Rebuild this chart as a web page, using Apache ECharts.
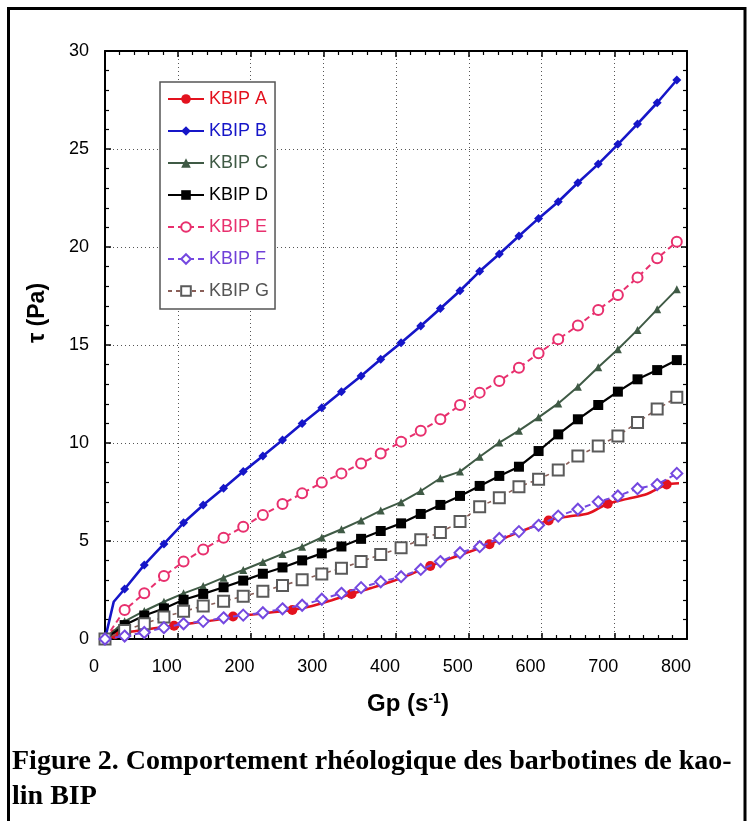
<!DOCTYPE html>
<html><head><meta charset="utf-8">
<script src="https://cdn.jsdelivr.net/npm/echarts@6/dist/echarts.min.js"></script>
<style>html,body{margin:0;padding:0;background:#fff}#c{width:748px;height:821px}</style>
</head><body><div id="c"></div>
<script>
// ---- data ----
const seriesNames = ['KBIP A','KBIP B','KBIP C','KBIP D','KBIP E','KBIP F','KBIP G'];
const xTicks = [0,100,200,300,400,500,600,700,800];
const yTicks = [0,5,10,15,20,25,30];

const gp  = [0,27,54,81,108,135,163,190,217,244,271,298,325,352,379,407,434,461,488,515,542,569,596,623,650,678,705,732,759,786];
const gpA = [0,13.5,40.6,67.8,94.9,122,149,176,203,230,257.5,284.6,311.7,338.8,366,393,420,447,474,501,528.5,555.6,582.7,609.8,637,664,691,718,745,772,789];
const gpB = [0,12,27,54,81,108,135,163,190,217,244,271,298,325,352,379,407,434,461,488,515,542,569,596,623,650,678,705,732,759,786];

const tauA = [0,0.24,0.40,0.55,0.68,0.82,0.95,1.15,1.25,1.36,1.48,1.68,1.98,2.3,2.6,2.92,3.3,3.72,4.1,4.45,4.83,5.25,5.65,6.05,6.25,6.4,6.9,7.15,7.4,7.88,7.95];
const tauB = [0,1.9,2.55,3.78,4.85,5.93,6.84,7.69,8.54,9.34,10.15,11.0,11.80,12.62,13.42,14.27,15.12,15.97,16.86,17.77,18.76,19.64,20.56,21.46,22.31,23.28,24.23,25.24,26.28,27.36,28.52];
const tauC = [0,0.9,1.43,1.90,2.33,2.70,3.13,3.52,3.93,4.34,4.71,5.18,5.60,6.05,6.55,6.98,7.55,8.20,8.54,9.30,10.02,10.63,11.31,12.02,12.87,13.86,14.78,15.77,16.82,17.84];
const tauD = [0,0.71,1.2,1.56,2.0,2.3,2.64,2.98,3.33,3.65,4.01,4.37,4.72,5.11,5.51,5.90,6.38,6.84,7.30,7.81,8.32,8.79,9.59,10.44,11.21,11.94,12.62,13.25,13.72,14.23];
const tauE = [0,1.48,2.33,3.21,3.95,4.57,5.17,5.73,6.33,6.89,7.43,7.98,8.45,8.96,9.47,10.07,10.63,11.21,11.94,12.57,13.16,13.84,14.58,15.29,15.99,16.79,17.55,18.45,19.42,20.27];
const tauF = [0,0.15,0.33,0.58,0.78,0.9,1.08,1.22,1.34,1.54,1.72,2.03,2.33,2.62,2.92,3.18,3.55,3.95,4.40,4.71,5.13,5.48,5.8,6.27,6.62,7.0,7.3,7.67,7.88,8.45];
const tauG = [0,0.44,0.78,1.12,1.41,1.68,1.92,2.18,2.43,2.73,3.02,3.32,3.61,3.95,4.31,4.66,5.07,5.43,5.99,6.75,7.21,7.77,8.15,8.62,9.34,9.85,10.36,11.05,11.73,12.33];

const markedA = [1,4,7,10,13,17,20,23,26,29];

// ---- styles ----
const colors = ['#e3121e','#1616c8','#3f5a45','#000000','#e8306e','#7448e0','#5a5a5a'];
const textColors = ['#e3121e','#1616c8','#3f5a45','#000000','#e8306e','#7040d8','#555555'];
const pairs = (xs, ys) => xs.map((x, i) => [x, ys[i]]);

const chart = echarts.init(document.getElementById('c'), null, {renderer: 'canvas'});
const FONT = 'Liberation Sans, Arial, sans-serif';

const axisBase = {
  type: 'value',
  axisLine: {onZero: false, lineStyle: {color: '#000', width: 2}},
  axisTick: {inside: true, length: 6, lineStyle: {color: '#000', width: 1.5}},
  minorTick: {show: true, splitNumber: 5, length: 4, lineStyle: {color: '#000', width: 1.2}}
};

const option = {
  animation: false,
  backgroundColor: '#fff',
  grid: {left: 105, top: 51, right: 61, bottom: 182, containLabel: false},
  xAxis: [
    Object.assign({}, axisBase, {
      min: xTicks[0], max: xTicks[xTicks.length - 1], interval: 100, position: 'bottom',
      splitLine: {show: true, lineStyle: {color: '#555', type: [1, 3], width: 1}},
      axisLabel: {fontSize: 18, color: '#000', margin: 19, padding: [0, 22, 0, 0], fontFamily: FONT}
    }),
    Object.assign({}, axisBase, {
      min: xTicks[0], max: xTicks[xTicks.length - 1], interval: 100, position: 'top',
      splitLine: {show: false}, axisLabel: {show: false}
    })
  ],
  yAxis: [
    Object.assign({}, axisBase, {
      min: yTicks[0], max: yTicks[yTicks.length - 1], interval: 5, position: 'left',
      splitLine: {show: true, lineStyle: {color: '#555', type: [1, 3], width: 1}},
      axisLabel: {fontSize: 18, color: '#000', margin: 16, fontFamily: FONT}
    }),
    Object.assign({}, axisBase, {
      min: yTicks[0], max: yTicks[yTicks.length - 1], interval: 5, position: 'right',
      splitLine: {show: false}, axisLabel: {show: false}
    })
  ],
  legend: {
    left: 160, top: 82, orient: 'vertical',
    itemWidth: 36, itemHeight: 12, itemGap: 14,
    padding: [8, 6, 9, 7],
    borderColor: '#555', borderWidth: 1.5, backgroundColor: '#fff',
    textStyle: {fontFamily: FONT, fontSize: 18, lineHeight: 18},
    selectedMode: false, z: 10,
    data: seriesNames.map((n, i) => ({name: n, textStyle: {color: textColors[i]}}))
  },
  series: [
    {name: seriesNames[0], type: 'line', data: pairs(gpA, tauA), smooth: 0.3,
     symbol: 'circle', symbolSize: (v, p) => markedA.indexOf(p.dataIndex) >= 0 ? 10 : 0,
     lineStyle: {color: colors[0], width: 2.5}, itemStyle: {color: colors[0]}, z: 2},
    {name: seriesNames[1], type: 'line', data: pairs(gpB, tauB),
     symbol: 'diamond', symbolSize: (v, p) => p.dataIndex === 1 ? 0 : 9,
     lineStyle: {color: colors[1], width: 2.6}, itemStyle: {color: colors[1]}, z: 3},
    {name: seriesNames[2], type: 'line', data: pairs(gp, tauC),
     symbol: 'triangle', symbolSize: 8,
     lineStyle: {color: colors[2], width: 2}, itemStyle: {color: colors[2]}, z: 3},
    {name: seriesNames[3], type: 'line', data: pairs(gp, tauD),
     symbol: 'rect', symbolSize: 10,
     lineStyle: {color: colors[3], width: 2.2}, itemStyle: {color: colors[3]}, z: 3},
    {name: seriesNames[4], type: 'line', data: pairs(gp, tauE),
     symbol: 'emptyCircle', symbolSize: 10,
     lineStyle: {color: colors[4], width: 2, type: [6, 4]}, itemStyle: {color: colors[4], borderWidth: 1.2}, z: 3},
    {name: seriesNames[5], type: 'line', data: pairs(gp, tauF),
     symbol: 'emptyDiamond', symbolSize: 11,
     lineStyle: {color: colors[5], width: 2, type: [6, 4]}, itemStyle: {color: colors[5], borderWidth: 1.2}, z: 4},
    {name: seriesNames[6], type: 'line', data: pairs(gp, tauG),
     symbol: 'emptyRect', symbolSize: 11,
     lineStyle: {color: '#8a5f58', width: 1.6, type: [4, 4]}, itemStyle: {color: colors[6], borderWidth: 1.2}, z: 3}
  ],
  graphic: [
    {type: 'rect', silent: true, z: 100,
     shape: {x: 8.5, y: 8.5, width: 736.5, height: 830},
     style: {fill: 'none', stroke: '#000', lineWidth: 3}},
    {type: 'text', x: 38, y: 313, rotation: Math.PI / 2, z: 100,
     style: {text: 'τ (Pa)', font: 'bold 23px ' + FONT, fill: '#000', align: 'center', verticalAlign: 'middle'}},
    {type: 'text', x: 408, y: 704, z: 100,
     style: {text: '{b|Gp (s}{s|-1}{b|)}', align: 'center', verticalAlign: 'middle', fill: '#000',
       rich: {b: {font: 'bold 24px ' + FONT, fill: '#000'}, s: {font: 'bold 14px ' + FONT, fill: '#000', verticalAlign: 'top'}}}},
    {type: 'text', x: 12, y: 762, z: 100,
     style: {text: 'Figure 2. Comportement rhéologique des barbotines de kao-', font: 'bold 28px "Liberation Serif", serif', fill: '#000', align: 'left', verticalAlign: 'middle'}},
    {type: 'text', x: 12, y: 797, z: 100,
     style: {text: 'lin BIP', font: 'bold 28px "Liberation Serif", serif', fill: '#000', align: 'left', verticalAlign: 'middle'}}
  ]
};
chart.setOption(option);
</script>
</body></html>
